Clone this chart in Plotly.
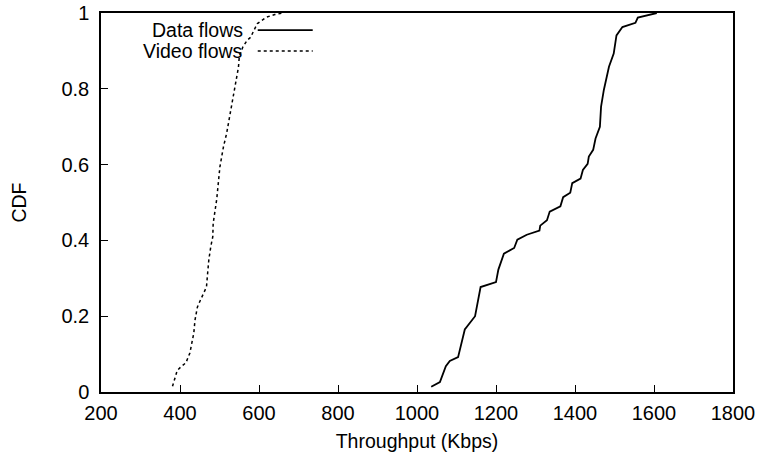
import plotly.graph_objects as go

# Data flows CDF (throughput in Kbps, cumulative fraction)
data_x = [1036, 1058, 1073, 1083, 1104, 1113, 1121, 1147, 1153, 1161, 1200, 1206,
          1220, 1246, 1254, 1278, 1310, 1312, 1329, 1336, 1363, 1370, 1388, 1393,
          1414, 1420, 1432, 1435, 1446, 1452, 1463, 1466, 1473, 1479, 1486, 1498,
          1505, 1520, 1553, 1559, 1607]
data_y = [0.014, 0.026, 0.068, 0.082, 0.092, 0.13, 0.165, 0.2, 0.235, 0.277, 0.29, 0.323,
          0.365, 0.38, 0.402, 0.415, 0.426, 0.439, 0.453, 0.476, 0.49, 0.514, 0.526, 0.551,
          0.563, 0.586, 0.602, 0.621, 0.639, 0.669, 0.7, 0.753, 0.797, 0.823, 0.858, 0.893,
          0.941, 0.963, 0.974, 0.988, 1.0]

# Video flows CDF
video_x = [381, 387, 393, 404, 415, 425, 430, 435, 438, 444, 452, 459, 467, 470,
           473, 478, 483, 484, 489, 493, 501, 510, 518, 524, 531, 537, 542, 548,
           550, 559, 570, 579, 587, 596, 619, 640, 662]
video_y = [0.015, 0.037, 0.057, 0.068, 0.077, 0.103, 0.13, 0.156, 0.19, 0.224, 0.243, 0.261,
           0.277, 0.314, 0.349, 0.384, 0.41, 0.445, 0.48, 0.509, 0.594, 0.647, 0.682, 0.717,
           0.752, 0.787, 0.814, 0.857, 0.884, 0.91, 0.928, 0.936, 0.954, 0.972, 0.989, 0.996, 1.0]

series_names = ["Data flows", "Video flows"]
x_ticks = [200, 400, 600, 800, 1000, 1200, 1400, 1600, 1800]
y_ticks = [0, 0.2, 0.4, 0.6, 0.8, 1]
y_tick_labels = ["0", "0.2", "0.4", "0.6", "0.8", "1"]

FONT = "Liberation Sans, Arial, sans-serif"

fig = go.Figure()
fig.add_trace(go.Scatter(x=data_x, y=data_y, mode="lines", name=series_names[0],
                         line=dict(color="black", width=1.8), showlegend=False))
fig.add_trace(go.Scatter(x=video_x, y=video_y, mode="lines", name=series_names[1],
                         line=dict(color="black", width=1.5, dash="dot"), showlegend=False))

# gnuplot-style legend: text right-aligned, sample to the right
legend_styles = [dict(color="black", width=1.8), dict(color="black", width=1.5, dash="dot")]
legend_rows_y = [0.955, 0.9]
for name, style, ly in zip(series_names, legend_styles, legend_rows_y):
    fig.add_annotation(xref="paper", yref="paper", x=0.228, y=ly, text=name,
                       showarrow=False, xanchor="right", yanchor="middle",
                       font=dict(family=FONT, size=19.5, color="black"))
    fig.add_shape(type="line", xref="paper", yref="paper", x0=0.248, x1=0.335,
                  y0=ly, y1=ly, line=style)

fig.update_layout(
    width=759, height=457,
    margin=dict(l=101, r=26, t=13, b=65),
    paper_bgcolor="white", plot_bgcolor="white",
    font=dict(family=FONT, size=20, color="black"),
)
fig.update_xaxes(range=[200, 1800], tickvals=x_ticks, ticks="inside", ticklen=7,
                 tickcolor="black", tickwidth=1, showline=True, linecolor="black",
                 linewidth=1.5, mirror=True, showgrid=False, zeroline=False,
                 automargin=False, ticklabelstandoff=2,
                 title=dict(text="Throughput (Kbps)", standoff=12,
                            font=dict(family=FONT, size=19.5)),
                 tickfont=dict(size=20))
fig.update_yaxes(range=[0, 1], tickvals=y_ticks, ticktext=y_tick_labels, ticks="inside",
                 ticklen=7, tickcolor="black", tickwidth=1, showline=True,
                 linecolor="black", linewidth=1.5, mirror=True, showgrid=False,
                 zeroline=False, automargin=False,
                 title=dict(text="CDF", standoff=30, font=dict(family=FONT, size=19.5)),
                 tickfont=dict(size=20), ticklabelstandoff=6)

fig.write_html("out.html")
